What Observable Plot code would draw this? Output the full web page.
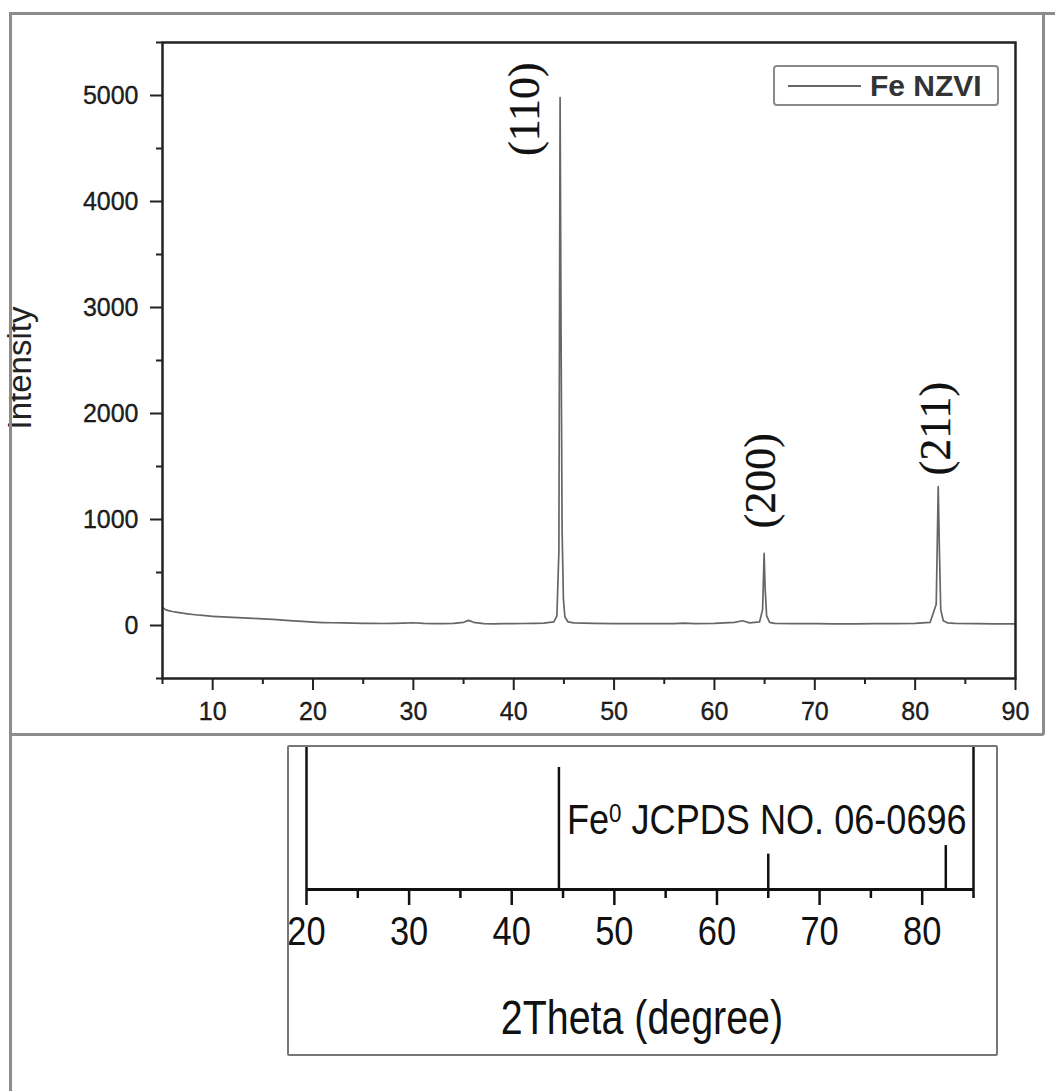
<!DOCTYPE html>
<html><head><meta charset="utf-8">
<script src="https://cdn.jsdelivr.net/npm/d3@7"></script>
<script src="https://cdn.jsdelivr.net/npm/@observablehq/plot@0.6"></script>
<style>
body{margin:0;background:#fff;}
#page{position:relative;width:1055px;height:1091px;overflow:hidden;background:#fff;font-family:"Liberation Sans",Arial,sans-serif;}
.abs{position:absolute;box-sizing:border-box;}
</style></head><body><div id="page"></div>
<script>
// ---------- data ----------
const theta = [5.0,5.3,5.6,6.0,6.5,7.0,7.5,8.0,8.5,9.0,9.5,10,11,12,13,14,15,16,17,18,19,20,21,22,23,24,25,26,27,28,29,30,31,32,33,34,35,35.5,36,37,38,39,40,41,42,43,44,44.3,44.5,44.62,44.72,44.82,44.95,45.1,45.4,46,48,50,52,54,56,57,58,60,62,62.8,63.5,64.5,64.8,64.95,65.05,65.2,65.5,66,68,70,72,74,76,78,80,81.5,82.1,82.3,82.42,82.55,82.8,83.2,84,86,88,90];
const intensity = [170,150,140,132,124,116,110,104,99,95,91,87,81,76,72,68,62,58,51,44,38,32,28,26,24,22,20,20,19,20,22,26,20,18,18,20,30,48,30,18,16,17,18,19,20,22,35,90,700,4980,2700,900,250,80,35,25,20,18,18,17,18,22,18,20,30,45,25,35,150,680,350,90,30,20,18,17,16,16,17,18,20,30,200,1310,700,150,45,25,20,18,16,15];

const peakLabels = ["(110)", "(200)", "(211)"];
const peakLabelTheta = [41.1, 64.6, 82.1];
const peakLabelIntensity = [4430, 915, 1415];

const xTicksTop = [10,20,30,40,50,60,70,80,90];
const xMinorTop = [5,15,25,35,45,55,65,75,85];
const yTicksTop = [0,1000,2000,3000,4000,5000];
const yMinorTop = [-500,500,1500,2500,3500,4500,5500];

const refTheta = [44.6, 65.0, 82.3];
const refIntensity = [100, 29, 36];
const xDomainBottom = [20, 85];
const xTicksBottom = [20,30,40,50,60,70,80];
const xMinorBottom = [25,35,45,55,65,75,85];
const legendLabel = "Fe NZVI";
const refLabel = ["Fe", "0", " JCPDS NO. 06-0696"];

// ---------- page frames ----------
const page = document.getElementById("page");
function box(css){const d=document.createElement("div");d.className="abs";Object.assign(d.style,css);page.appendChild(d);return d;}

// ---------- top chart ----------
const spectrum = theta.map((t,i)=>({theta:t, intensity:intensity[i]}));
const labels = peakLabels.map((s,i)=>({s, x:peakLabelTheta[i], y:peakLabelIntensity[i]}));
const topChart = Plot.plot({
  width: 1045, height: 735,
  marginLeft: 162, marginRight: 30, marginTop: 42, marginBottom: 57,
  style: {fontFamily: '"Liberation Sans", Arial, sans-serif', fontSize: "25px", background: "transparent", overflow: "visible"},
  x: {domain: [5, 90]},
  y: {domain: [-500, 5500]},
  marks: [
    Plot.line(spectrum, {x: "theta", y: "intensity", stroke: "#666", strokeWidth: 1.7}),
    Plot.text(labels, {x: "x", y: "y", text: "s", rotate: -90, textAnchor: "start", lineAnchor: "middle", fontFamily: '"Liberation Serif", "Times New Roman", serif', fontSize: 44, fill: "#111"}),
    Plot.axisX({ticks: xTicksTop, tickSize: 12, tickPadding: 12, stroke: "#222", fill: "#222", strokeWidth: 2, label: null, tickFormat: d => String(d), fontSize: 25}),
    Plot.axisX({ticks: xMinorTop, tickSize: 6, stroke: "#222", strokeWidth: 2, text: null, label: null}),
    Plot.axisY({ticks: yTicksTop, tickSize: 12, tickPadding: 12, stroke: "#222", fill: "#222", strokeWidth: 2, label: null, tickFormat: d => String(d), fontSize: 25}),
    Plot.axisY({ticks: yMinorTop, tickSize: 6, stroke: "#222", strokeWidth: 2, text: null, label: null}),
    Plot.frame({stroke: "#222", strokeWidth: 2.5})
  ]
});
topChart.style.position = "absolute"; topChart.style.left = "0px"; topChart.style.top = "0px";
page.appendChild(topChart);
d3.select(topChart).selectAll("text").attr("stroke", "currentColor").attr("stroke-width", 0.3);

// y label
const yl = document.createElement("div");
yl.className = "abs";
yl.textContent = "Intensity";
Object.assign(yl.style, {left: "-60px", top: "349px", width: "160px", textAlign: "center", fontSize: "33px", color: "#222", transform: "rotate(-90deg)", lineHeight: "38px", whiteSpace: "nowrap"});
page.appendChild(yl);

// legend
const lg = box({left: "773px", top: "65px", width: "226px", height: "41px", border: "2px solid #8a8a8a", borderRadius: "4px", background: "#fff"});
const ll = document.createElement("div"); ll.className = "abs";
Object.assign(ll.style, {left: "13px", top: "18px", width: "73px", height: "0px", borderTop: "2px solid #666"});
lg.appendChild(ll);
const lt = document.createElement("div"); lt.className = "abs";
lt.textContent = legendLabel;
Object.assign(lt.style, {left: "95px", top: "1px", fontSize: "30px", fontWeight: "bold", color: "#333", lineHeight: "36px", whiteSpace: "nowrap"});
lg.appendChild(lt);

// ---------- bottom chart ----------
const refs = refTheta.map((t,i)=>({theta:t, rel:refIntensity[i]}));
const narrow = '"Liberation Sans Narrow", "Arial Narrow", "Liberation Sans", sans-serif';
const bottomChart = Plot.plot({
  width: 1000, height: 300,
  marginLeft: 306, marginRight: 27, marginTop: 0, marginBottom: 156,
  style: {fontFamily: narrow, fontSize: "40px", background: "transparent", overflow: "visible"},
  x: {domain: xDomainBottom},
  y: {domain: [0, 118], axis: null},
  marks: [
    Plot.ruleX(refs, {x: "theta", y1: 0, y2: "rel", stroke: "#111", strokeWidth: 2.5}),
    Plot.ruleX(xDomainBottom, {stroke: "#111", strokeWidth: 2.5}),
    Plot.ruleY([0], {stroke: "#111", strokeWidth: 3}),
    Plot.axisX({ticks: xTicksBottom, tickSize: 16, tickPadding: 10, stroke: "#111", fill: "#111", strokeWidth: 2.5, label: null, tickFormat: d => String(d), fontSize: 41}),
    Plot.axisX({ticks: xMinorBottom, tickSize: 9, stroke: "#111", strokeWidth: 2.5, text: null, label: null}),
    Plot.text([refLabel.join("")], {x: refTheta[0], y: 57, text: d => d, textAnchor: "start", dx: 8, fontSize: 43, fill: "#111", className: "reflabel"})
  ]
});
bottomChart.style.position = "absolute"; bottomChart.style.left = "0px"; bottomChart.style.top = "745px";
page.appendChild(bottomChart);
// superscript for Fe0
d3.select(bottomChart).selectAll("g.reflabel text").each(function(){
  const t = d3.select(this); t.text(null);
  t.append("tspan").text(refLabel[0]);
  t.append("tspan").attr("dy", "-0.45em").attr("font-size", "0.62em").text(refLabel[1]);
  t.append("tspan").attr("dy", "0.28em").text(refLabel[2]);
});
// condense the bottom panel's text (narrow face), keeping each text's anchor in place
d3.select(bottomChart).selectAll("text").each(function(){
  const el = this;
  const bb = el.getBBox();
  const anchor = getComputedStyle(el).textAnchor || el.getAttribute("text-anchor") || "start";
  const cx = anchor === "middle" ? bb.x + bb.width / 2 : anchor === "end" ? bb.x + bb.width : bb.x;
  const tr = el.getAttribute("transform") || "";
  el.setAttribute("transform", `${tr} translate(${cx},0) scale(0.84,1) translate(${-cx},0)`);
});
// x label
const xl = document.createElement("div"); xl.className = "abs";
xl.textContent = "2Theta (degree)";
Object.assign(xl.style, {left: "287px", width: "710px", top: "990px", textAlign: "center", fontFamily: narrow, fontSize: "48px", color: "#111", lineHeight: "56px", transform: "scaleX(0.82)", transformOrigin: "center"});
page.appendChild(xl);

// frames
box({left: "9px", top: "12px", width: "1036px", height: "724px", border: "3px solid #8c8c8c", borderRadius: "3px"});
box({left: "9px", top: "12px", width: "1046px", height: "3px", background: "#8c8c8c"});
box({left: "9px", top: "12px", width: "3px", height: "1079px", background: "#8c8c8c"});
box({left: "287px", top: "745px", width: "711px", height: "311px", border: "2px solid #777", borderRadius: "2px"});
</script></body></html>
